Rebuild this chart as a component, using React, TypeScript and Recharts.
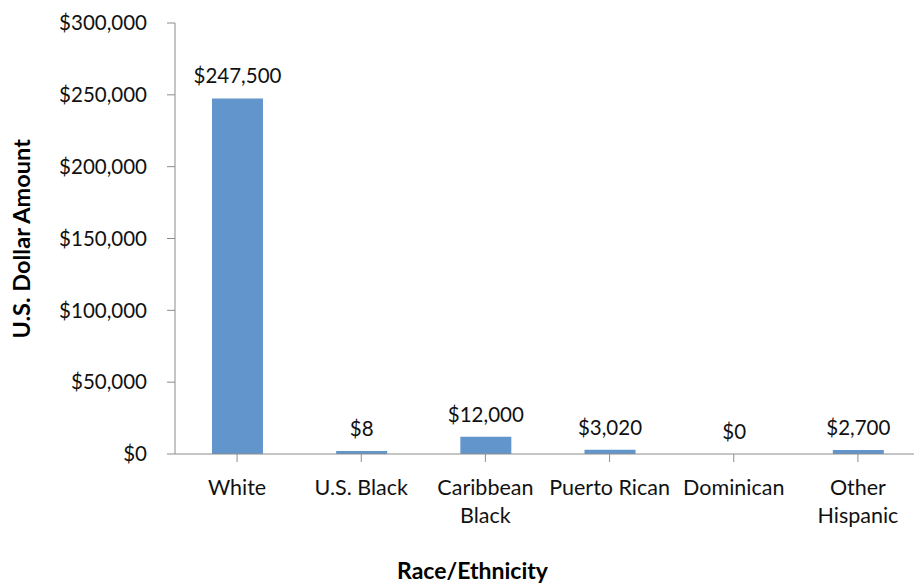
import React from 'react';
import { BarChart, Bar, XAxis, YAxis, LabelList } from 'recharts';

const categories = ['White', 'U.S. Black', 'Caribbean\nBlack', 'Puerto Rican', 'Dominican', 'Other\nHispanic'];
const amounts = [247500, 8, 12000, 3020, 0, 2700];
const yTicks = [0, 50000, 100000, 150000, 200000, 250000, 300000];

const data = categories.map((name, i) => ({ name, amount: amounts[i] }));

const FONT = 'Lato, "Open Sans", sans-serif';
const money = (v: number) => '$' + v.toLocaleString('en-US');

const CategoryTick = (props: any) => {
    const { x, y, payload } = props;
    const lines = String(payload.value).split('\n');
    return (
        <text x={x} y={y} textAnchor="middle" fill="#111" fontSize={21.5} fontFamily={FONT}>
            {lines.map((line, i) => (
                <tspan key={i} x={x} dy={i === 0 ? 31 : 28}>{line}</tspan>
            ))}
        </text>
    );
};

const App = () => {
    return (
        <div style={{ position: 'fixed', left: 0, top: 0, width: 914, height: 584, overflow: 'hidden', background: '#fff' }}>
            <BarChart
                width={920}
                height={584}
                data={data}
                margin={{ top: 23, right: 0, bottom: 0, left: 0 }}
                barSize={51}
            >
                <XAxis
                    dataKey="name"
                    height={130}
                    interval={0}
                    stroke="#8c8c8c"
                    tickSize={8}
                    tick={<CategoryTick />}
                    label={{
                        value: 'Race/Ethnicity',
                        position: 'insideBottom',
                        dx: -75,
                        offset: 5,
                        fill: '#000',
                        fontSize: 23,
                        fontWeight: 'bold',
                        fontFamily: FONT,
                    }}
                />
                <YAxis
                    width={175}
                    domain={[0, 300000]}
                    ticks={yTicks}
                    interval={0}
                    stroke="#8c8c8c"
                    tickSize={8}
                    tickMargin={20}
                    tickFormatter={money}
                    tick={{ fill: '#111', fontSize: 20.5, fontFamily: FONT }}
                    label={{
                        value: 'U.S. Dollar Amount',
                        angle: -90,
                        position: 'insideLeft',
                        offset: 22,
                        dy: 100,
                        fill: '#000',
                        fontSize: 23.5,
                        fontWeight: 'bold',
                        fontFamily: FONT,
                    }}
                />
                <Bar
                    dataKey="amount"
                    fill="#6195cb"
                    minPointSize={(v: any) => (Number(v) > 0 ? 3 : 0.01)}
                    isAnimationActive={false}
                >
                    <LabelList
                        dataKey="amount"
                        position="top"
                        offset={15}
                        formatter={(v: any) => money(Number(v))}
                        fill="#111"
                        fontSize={20.5}
                        fontFamily={FONT}
                    />
                </Bar>
            </BarChart>
        </div>
    );
};

export default App;
